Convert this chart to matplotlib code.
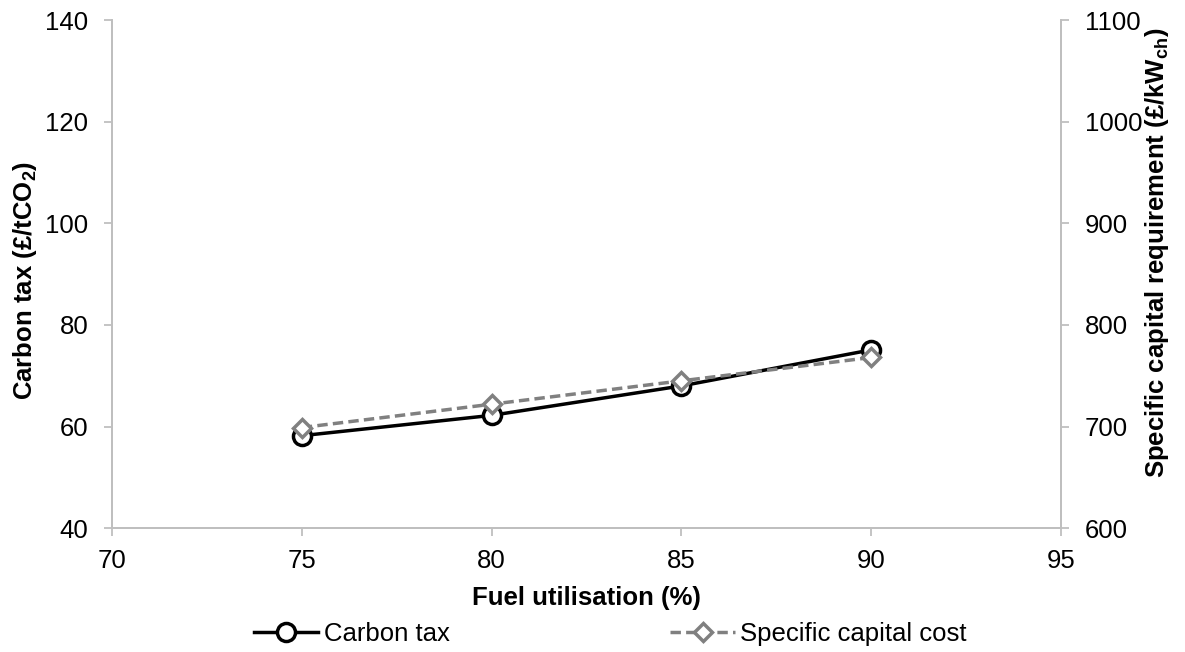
import matplotlib.pyplot as plt

plt.rcParams['font.family'] = ['Liberation Sans', 'DejaVu Sans']
plt.rcParams['mathtext.fontset'] = 'custom'
plt.rcParams['mathtext.rm'] = 'Liberation Sans'
plt.rcParams['mathtext.bf'] = 'Liberation Sans:bold'

# data
fuel_util = [75, 80, 85, 90]
carbon_tax = [58.2, 62.2, 68.0, 75.1]
capital_cost = [699, 722, 745, 768]

grey = '#BFBFBF'
fs = 18.5

fig = plt.figure(figsize=(11.85, 6.52), dpi=100)
ax = fig.add_axes([0.0945, 0.19, 0.801, 0.779])
ax2 = ax.twinx()

l1, = ax.plot(fuel_util, carbon_tax, color='black', lw=2.5, marker='o', ms=13,
              mfc='white', mec='black', mew=2.5, label='Carbon tax')
l2, = ax2.plot(fuel_util, capital_cost, color='#808080', lw=2.5, ls=(0, (3, 1.5)),
               marker='D', ms=9.5, mfc='white', mec='#808080', mew=2.5,
               label='Specific capital cost')

ax.set_xlim(70, 95)
ax.set_ylim(40, 140)
ax2.set_ylim(600, 1100)
ax.set_xticks(range(70, 96, 5))
ax.set_yticks(range(40, 141, 20))
ax2.set_yticks(range(600, 1101, 100))

for a in (ax, ax2):
    a.spines['top'].set_visible(False)
    for s in ('left', 'right', 'bottom'):
        a.spines[s].set_color(grey)
        a.spines[s].set_linewidth(1.3)
    a.tick_params(colors=grey, labelcolor='black', labelsize=fs, length=6, width=1.3,
                  pad=11)
ax.tick_params(axis='x', pad=9)

ax.set_xlabel('Fuel utilisation (%)', fontsize=fs, fontweight='bold', va='center')
ax.xaxis.set_label_coords(0.5, -0.138)

fig.text(25 / 1185, 1 - 280 / 652, r'Carbon tax (£/tCO$\mathbf{_2}$)', fontsize=fs,
         fontweight='bold', rotation=90, ha='center', va='center')
fig.text(1157 / 1185, 1 - 253 / 652, r'Specific capital requirement (£/kW$\mathbf{_{ch}}$)',
         fontsize=fs, fontweight='bold', rotation=90, ha='center', va='center')

fig.legend(handles=[l1, l2], loc='center', bbox_to_anchor=(0.515, 0.028), ncol=2,
           frameon=False, fontsize=fs, handlelength=2.5, columnspacing=8.6,
           handletextpad=0.2)

fig.savefig('out.png', dpi=100)
